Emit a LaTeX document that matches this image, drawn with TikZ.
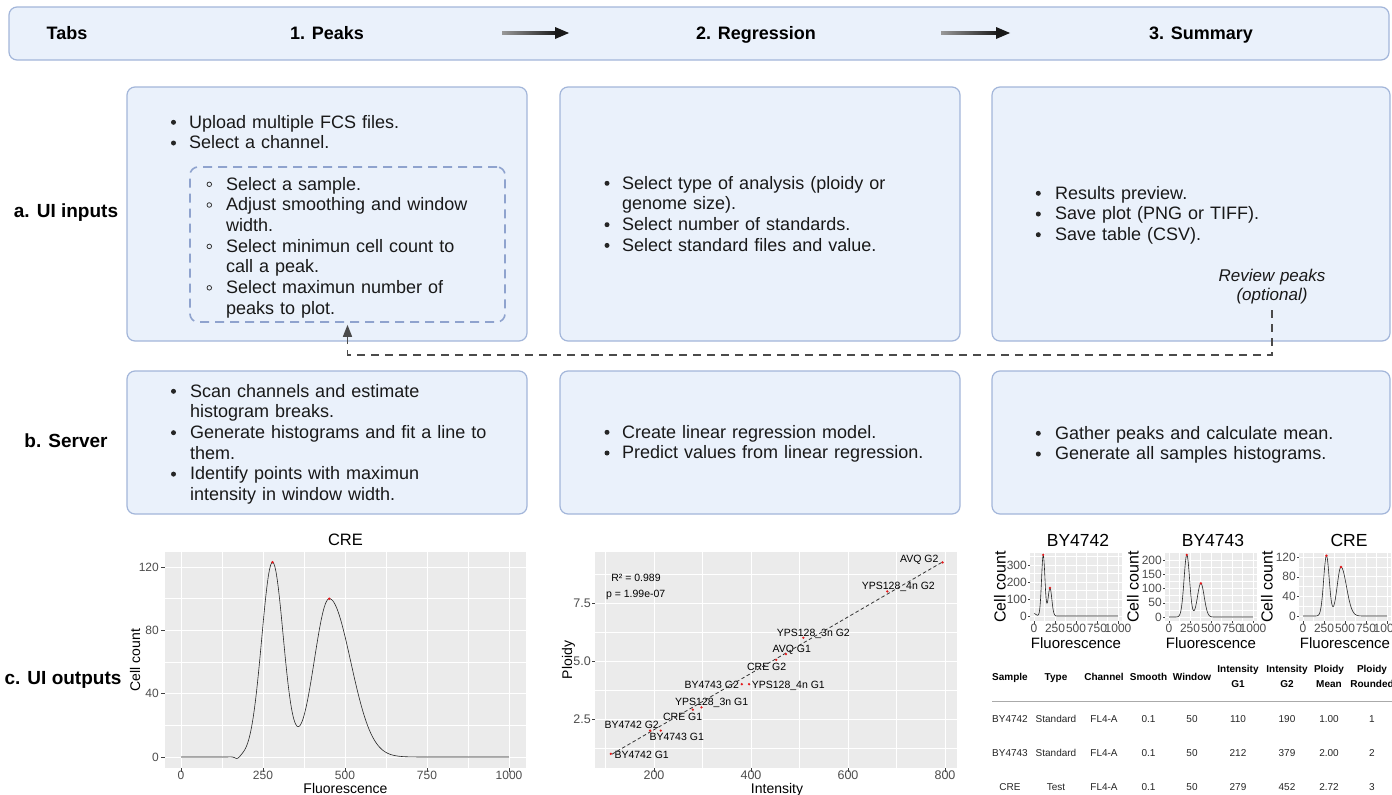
\documentclass[tikz,border=0pt]{standalone}
\usepackage{fontspec}
\setmainfont{Liberation Sans}
\usetikzlibrary{arrows.meta}
\definecolor{boxfill}{RGB}{234,241,251}
\definecolor{boxline}{RGB}{163,182,218}
\definecolor{dashblue}{RGB}{143,163,206}
\definecolor{connc}{RGB}{75,75,75}
\definecolor{panelbg}{RGB}{235,235,235}
\definecolor{tickc}{RGB}{77,77,77}
\definecolor{peakred}{RGB}{228,26,28}
\definecolor{rulec}{RGB}{170,170,170}
\tikzset{
  declare function={gs(\xa,\xm,\xd)=exp(max(-9,-(\xa-\xm)*(\xa-\xm)/\xd));},
  panel/.style={draw=boxline, fill=boxfill, rounded corners=8pt, line width=1.2pt, inner sep=0pt},
  head/.style={font=\bfseries\fontsize{18}{21}\selectfont, inner sep=0pt, anchor=base},
  rowlab/.style={font=\bfseries\fontsize{19}{22}\selectfont, inner sep=0pt, anchor=base},
  txt/.style={text width=430pt, align=left, anchor=base west, inner sep=0pt, text=black!90, font=\fontsize{18}{20.7}\selectfont},
  bul/.style={fill=black!85},
  subbul/.style={draw=black!80, line width=0.8pt},
  conn/.style={draw=connc, line width=1.5pt, dash pattern=on 8pt off 6pt, -{Triangle[length=12pt,width=9pt]}},
  gridmaj/.style={draw=white, line width=0.9pt},
  gridmin/.style={draw=white, line width=0.45pt},
  tickm/.style={draw=black!75, line width=0.5pt},
  ticklab/.style={text=tickc, inner sep=0pt},
  axlab/.style={inner sep=0pt},
  curve/.style={draw=black!85, line width=0.6pt},
  peak/.style={fill=peakred},
  ptlab/.style={font=\fontsize{10.5}{12}\selectfont, inner sep=0pt, anchor=base},
  th/.style={font=\bfseries\fontsize{10}{15}\selectfont, inner sep=0pt, anchor=base, text width=60pt, align=center},
  td/.style={font=\fontsize{10}{12}\selectfont, inner sep=0pt, anchor=base, text=black!85},
}
\begin{document}
\begin{tikzpicture}[x=1pt,y=-1pt]
\useasboundingbox (0,0) rectangle (1392,795);
\fill[white] (0,0) rectangle (1392,795);

% ---------- tab bar ----------
\node[panel, minimum width=1380pt, minimum height=53pt] (tabbar) at (699,33.5) {};
\node[head] (tabs) at (67,39.5) {Tabs};
\node[head] (t1) at (327,39.5) {1. Peaks};
\node[head] (t2) at (756,39.5) {2. Regression};
\node[head] (t3) at (1201,39.5) {3. Summary};
\shade[left color=black!40, right color=black!90] (502,31.3) rectangle (557,34.7);
\fill[black!90] (555,27) -- (569,33) -- (555,39) -- cycle;
\shade[left color=black!40, right color=black!90] (941,31.3) rectangle (998,34.7);
\fill[black!90] (996,27) -- (1010,33) -- (996,39) -- cycle;

% ---------- boxes ----------
\node[panel, minimum width=400pt, minimum height=254pt] (a1) at (327,214) {};
\node[panel, minimum width=400pt, minimum height=254pt] (a2) at (760,214) {};
\node[panel, minimum width=398pt, minimum height=254pt] (a3) at (1191,214) {};
\node[panel, minimum width=400pt, minimum height=143pt] (b1) at (327,442.5) {};
\node[panel, minimum width=400pt, minimum height=143pt] (b2) at (760,442.5) {};
\node[panel, minimum width=398pt, minimum height=143pt] (b3) at (1191,442.5) {};
\node[draw=dashblue, line width=1.6pt, dash pattern=on 9pt off 6pt, rounded corners=8pt, minimum width=315pt, minimum height=155pt, inner sep=0pt] (sub) at (347.5,244.5) {};

% ---------- row labels ----------
\node[rowlab] (la) at (66,217.8) {a. UI inputs};
\node[rowlab] (lb) at (66,447.8) {b. Server};
\node[rowlab] (lc) at (63,684.8) {c. UI outputs};

% ---------- texts ----------
\node[txt] (a1t) at (189,128) {Upload multiple FCS files.\\Select a channel.};
\foreach \yy in {122.3,143} \fill[bul] (173.5,\yy) circle (2.5pt);
\node[txt] (a1s) at (226,190) {Select a sample.\\Adjust smoothing and window\\width.\\Select minimun cell count to\\call a peak.\\Select maximun number of\\peaks to plot.};
\foreach \yy in {184.3,205,246.4,287.8} \draw[subbul] (209.3,\yy) circle (2.3pt);

\node[txt] (a2t) at (622,189) {Select type of analysis (ploidy or\\genome size).\\Select number of standards.\\Select standard files and value.};
\foreach \yy in {183.3,224.7,245.4} \fill[bul] (607,\yy) circle (2.5pt);

\node[txt] (a3t) at (1055,199) {Results preview.\\Save plot (PNG or TIFF).\\Save table (CSV).};
\foreach \yy in {193.3,214,234.7} \fill[bul] (1038.3,\yy) circle (2.5pt);

\node[txt] (b1t) at (190,397) {Scan channels and estimate\\histogram breaks.\\Generate histograms and fit a line to\\them.\\Identify points with maximun\\intensity in window width.};
\foreach \yy in {391.3,432.7,474.1} \fill[bul] (173.5,\yy) circle (2.5pt);

\node[txt] (b2t) at (622,438) {Create linear regression model.\\Predict values from linear regression.};
\foreach \yy in {432.3,453} \fill[bul] (607,\yy) circle (2.5pt);

\node[txt] (b3t) at (1055,439) {Gather peaks and calculate mean.\\Generate all samples histograms.};
\foreach \yy in {433.3,454} \fill[bul] (1038.3,\yy) circle (2.5pt);

% ---------- review connector ----------
\node[text width=140pt, align=center, anchor=base, inner sep=0pt, text=black!90, font=\itshape\fontsize{17}{19}\selectfont] (rev) at (1272,281) {Review peaks\\(optional)};
\coordinate (revtail) at (1272,310);
\draw[conn] (revtail) |- ([yshift=-32pt]sub.south) -- ([yshift=-2pt]sub.south);

% ---------- plot 1 (CRE) ----------
\begin{scope}[shift={(181,757)}, x=32.8pt, y=1.583pt]
  \fill[panelbg] (-0.488,-6.95) rectangle (10.518,129.5);
  \foreach \v in {1.25,3.75,6.25,8.75} \draw[gridmin] (\v,-6.95) -- (\v,129.5);
  \foreach \v in {20,60,100} \draw[gridmin] (-0.488,\v) -- (10.518,\v);
  \foreach \v in {0,2.5,5,7.5,10} {\draw[gridmaj] (\v,-6.95) -- (\v,129.5); \draw[tickm] (\v,-6.95) -- ++(0pt,-3.5pt);}
  \foreach \v in {0,40,80,120} {\draw[gridmaj] (-0.488,\v) -- (10.518,\v); \draw[tickm] (-0.488,\v) -- ++(-3.5pt,0pt);}
  \draw[curve] plot[domain=0:10,samples=301] (\x,{123*gs(\x,2.79,0.2178)+100*gs(\x,4.52,((\x<4.52)?0.42:0.845))-1.5*gs(\x,1.72,0.01)});
  \fill[peak] (2.79,123) circle (1.4pt);
  \fill[peak] (4.52,100) circle (1.4pt);
\end{scope}
\node[axlab, anchor=base, font=\fontsize{16.5}{18}\selectfont] (p1title) at (345.5,545.9) {CRE};
\foreach \v in {0,250,500,750,1000} \node[ticklab, font=\fontsize{12}{14}\selectfont] (p1x\v) at ({181+0.328*\v},775) {\v};
\foreach \v in {0,40,80,120} \node[ticklab, anchor=east, font=\fontsize{12}{14}\selectfont] (p1y\v) at (159,{757-1.583*\v}) {\v};
\node[axlab, font=\fontsize{14}{16}\selectfont] (p1xl) at (345.5,788) {Fluorescence};
\node[axlab, rotate=90, font=\fontsize{14}{16}\selectfont] (p1yl) at (135,660) {Cell count};

% ---------- plot 2 (regression) ----------
\begin{scope}[shift={(557,777)}, x=0.485pt, y=23.2pt]
  \fill[panelbg] (78.35,0.388) rectangle (824.7,9.70);
  \foreach \v in {100,300,500,700} \draw[gridmin] (\v,0.388) -- (\v,9.70);
  \foreach \v in {1.25,3.75,6.25,8.75} \draw[gridmin] (78.35,\v) -- (824.7,\v);
  \foreach \v in {200,400,600,800} {\draw[gridmaj] (\v,0.388) -- (\v,9.70); \draw[tickm] (\v,0.388) -- ++(0pt,-3.5pt);}
  \foreach \v in {2.5,5,7.5} {\draw[gridmaj] (78.35,\v) -- (824.7,\v); \draw[tickm] (78.35,\v) -- ++(-3.5pt,0pt);}
\end{scope}
\node[ptlab] (l1) at (919.3,562.9) {AVQ G2};
\node[ptlab] (l2) at (898.3,589.6) {YPS128\_4n G2};
\node[ptlab] (l3) at (813.3,636.9) {YPS128\_3n G2};
\node[ptlab] (l4) at (791.7,652.9) {AVQ G1};
\node[ptlab] (l5) at (766.7,670.3) {CRE G2};
\node[ptlab] (l6) at (711.7,688.6) {BY4743 G2};
\node[ptlab] (l7) at (788.3,688.6) {YPS128\_4n G1};
\node[ptlab] (l8) at (711.7,705.3) {YPS128\_3n G1};
\node[ptlab] (l9) at (682.7,720.3) {CRE G1};
\node[ptlab] (l10) at (631.7,728.6) {BY4742 G2};
\node[ptlab] (l11) at (676.7,740.3) {BY4743 G1};
\node[ptlab] (l12) at (641.7,758.6) {BY4742 G1};
\node[ptlab] (rsq) at (636,581.3) {R² = 0.989};
\node[ptlab] (pval) at (635.7,597.6) {p = 1.99e-07};
\begin{scope}[shift={(557,777)}, x=0.485pt, y=23.2pt]
  \coordinate (rl0) at (113,0.98);
  \coordinate (rl1) at (795,9.27);
  \draw[black!80, line width=0.8pt, dash pattern=on 3.5pt off 2.5pt] (rl0) -- (rl1);
  \foreach \px/\py in {111/1,192/2,214/2,280/2.9,298/3,381/4,396/4,452/5.05,472/5.3,508/6,681/8,795/9.25}
    \fill[peak] (\px,\py) circle (1.3pt);
\end{scope}
\foreach \v in {200,400,600,800} \node[ticklab, font=\fontsize{12.5}{14}\selectfont] (p2x\v) at ({557+0.485*\v},775) {\v};
\foreach \v/\t in {2.5/2.5,5/5.0,7.5/7.5} \node[ticklab, anchor=east, font=\fontsize{12.5}{14}\selectfont] (p2y\v) at (591,{777-23.2*\v}) {\t};
\node[axlab, anchor=base, font=\fontsize{14}{16}\selectfont] (p2xl) at (777,793.3) {Intensity};
\node[axlab, rotate=90, font=\fontsize{14}{16}\selectfont] (p2yl) at (568.5,660) {Ploidy};

% ---------- small plot BY4742 ----------
\begin{scope}[shift={(1034,616)}, x=8.4pt, y=0.17pt]
  \fill[panelbg] (-0.476,-29.4) rectangle (10.476,370.6);
  \foreach \v in {1.25,3.75,6.25,8.75} \draw[gridmin] (\v,-29.4) -- (\v,370.6);
  \foreach \v in {50,150,250,350} \draw[gridmin] (-0.476,\v) -- (10.476,\v);
  \foreach \v in {0,2.5,5,7.5,10} {\draw[gridmaj] (\v,-29.4) -- (\v,370.6); \draw[tickm] (\v,-29.4) -- ++(0pt,-2.5pt);}
  \foreach \v in {0,100,200,300} {\draw[gridmaj] (-0.476,\v) -- (10.476,\v); \draw[tickm] (-0.476,\v) -- ++(-2.5pt,0pt);}
  \draw[curve] plot[domain=0:10,samples=301] (\x,{360*gs(\x,1.10,0.08)+165*gs(\x,1.90,0.0968)+14*gs(\x,0,0.125)});
  \fill[peak] (1.10,360) circle (1.3pt);
  \fill[peak] (1.90,165) circle (1.3pt);
\end{scope}
\node[axlab, anchor=base, font=\fontsize{17.5}{19}\selectfont] (s1title) at (1078,546.3) {BY4742};
\foreach \v in {0,250,500,750,1000} \node[ticklab, font=\fontsize{12}{13}\selectfont] (s1x\v) at ({1034+0.084*\v},628) {\v};
\foreach \v in {0,100,200,300} \node[ticklab, anchor=east, font=\fontsize{12}{13}\selectfont] (s1y\v) at (1027,{616-0.17*\v}) {\v};
\node[axlab, font=\fontsize{15}{16}\selectfont] (s1xl) at (1076,643) {Fluorescence};
\node[axlab, rotate=90, font=\fontsize{16}{17}\selectfont] (s1yl) at (1000,587) {Cell count};

% ---------- small plot BY4743 ----------
\begin{scope}[shift={(1169,617)}, x=8.4pt, y=0.285pt]
  \fill[panelbg] (-0.476,-14) rectangle (10.476,224.6);
  \foreach \v in {1.25,3.75,6.25,8.75} \draw[gridmin] (\v,-14) -- (\v,224.6);
  \foreach \v in {25,75,125,175} \draw[gridmin] (-0.476,\v) -- (10.476,\v);
  \foreach \v in {0,2.5,5,7.5,10} {\draw[gridmaj] (\v,-14) -- (\v,224.6); \draw[tickm] (\v,-14) -- ++(0pt,-2.5pt);}
  \foreach \v in {0,50,100,150,200} {\draw[gridmaj] (-0.476,\v) -- (10.476,\v); \draw[tickm] (-0.476,\v) -- ++(-2.5pt,0pt);}
  \draw[curve] plot[domain=0:10,samples=301] (\x,{218*gs(\x,2.12,0.2178)+118*gs(\x,3.79,0.32)});
  \fill[peak] (2.12,218) circle (1.3pt);
  \fill[peak] (3.79,118) circle (1.3pt);
\end{scope}
\node[axlab, anchor=base, font=\fontsize{17.5}{19}\selectfont] (s2title) at (1213,546.3) {BY4743};
\foreach \v in {0,250,500,750,1000} \node[ticklab, font=\fontsize{12}{13}\selectfont] (s2x\v) at ({1169+0.084*\v},628) {\v};
\foreach \v in {0,50,100,150,200} \node[ticklab, anchor=east, font=\fontsize{12}{13}\selectfont] (s2y\v) at (1162,{617-0.285*\v}) {\v};
\node[axlab, font=\fontsize{15}{16}\selectfont] (s2xl) at (1211,643) {Fluorescence};
\node[axlab, rotate=90, font=\fontsize{16}{17}\selectfont] (s2yl) at (1133,587) {Cell count};

% ---------- small plot CRE ----------
\begin{scope}[shift={(1303,616)}, x=8.4pt, y=0.49pt]
  \fill[panelbg] (-0.476,-10.2) rectangle (10.476,128.6);
  \foreach \v in {1.25,3.75,6.25,8.75} \draw[gridmin] (\v,-10.2) -- (\v,128.6);
  \foreach \v in {20,60,100} \draw[gridmin] (-0.476,\v) -- (10.476,\v);
  \foreach \v in {0,2.5,5,7.5,10} {\draw[gridmaj] (\v,-10.2) -- (\v,128.6); \draw[tickm] (\v,-10.2) -- ++(0pt,-2.5pt);}
  \foreach \v in {0,40,80,120} {\draw[gridmaj] (-0.476,\v) -- (10.476,\v); \draw[tickm] (-0.476,\v) -- ++(-2.5pt,0pt);}
  \draw[curve] plot[domain=0:10,samples=301] (\x,{123*gs(\x,2.79,0.2178)+100*gs(\x,4.52,((\x<4.52)?0.42:0.845))});
  \fill[peak] (2.79,123) circle (1.3pt);
  \fill[peak] (4.52,100) circle (1.3pt);
\end{scope}
\node[axlab, anchor=base, font=\fontsize{17.5}{19}\selectfont] (s3title) at (1349,546.3) {CRE};
\foreach \v in {0,250,500,750,1000} \node[ticklab, font=\fontsize{12}{13}\selectfont] (s3x\v) at ({1303+0.084*\v},628) {\v};
\foreach \v in {0,40,80,120} \node[ticklab, anchor=east, font=\fontsize{12}{13}\selectfont] (s3y\v) at (1296,{616-0.49*\v}) {\v};
\node[axlab, font=\fontsize{15}{16}\selectfont] (s3xl) at (1345,643) {Fluorescence};
\node[axlab, rotate=90, font=\fontsize{16}{17}\selectfont] (s3yl) at (1267,587) {Cell count};

% ---------- table ----------
\node[th] (h1) at (1010,680.6) {Sample};
\node[th] (h2) at (1056,680.6) {Type};
\node[th] (h3) at (1104,680.6) {Channel};
\node[th] (h4) at (1148.5,680.6) {Smooth};
\node[th] (h5) at (1192,680.6) {Window};
\node[th] (h6) at (1238,672.6) {Intensity\\G1};
\node[th] (h7) at (1287,672.6) {Intensity\\G2};
\node[th] (h8) at (1329,672.6) {Ploidy\\Mean};
\node[th] (h9) at (1372,672.6) {Ploidy\\Rounded};
\draw[rulec, line width=0.8pt] (992,701) -- (1392,701);
\foreach \yy/\ca/\cb/\cc/\cd/\ce/\cf/\cg/\ch/\ci [count=\r] in
  {722.6/BY4742/Standard/FL4-A/0.1/50/110/190/1.00/1,
   756.6/BY4743/Standard/FL4-A/0.1/50/212/379/2.00/2,
   790.6/CRE/Test/FL4-A/0.1/50/279/452/2.72/3} {
  \node[td] (r\r-1) at (1010,\yy) {\ca};
  \node[td] (r\r-2) at (1056,\yy) {\cb};
  \node[td] (r\r-3) at (1104,\yy) {\cc};
  \node[td] (r\r-4) at (1148.5,\yy) {\cd};
  \node[td] (r\r-5) at (1192,\yy) {\ce};
  \node[td] (r\r-6) at (1238,\yy) {\cf};
  \node[td] (r\r-7) at (1287,\yy) {\cg};
  \node[td] (r\r-8) at (1329,\yy) {\ch};
  \node[td] (r\r-9) at (1372,\yy) {\ci};
}
\end{tikzpicture}
\end{document}
